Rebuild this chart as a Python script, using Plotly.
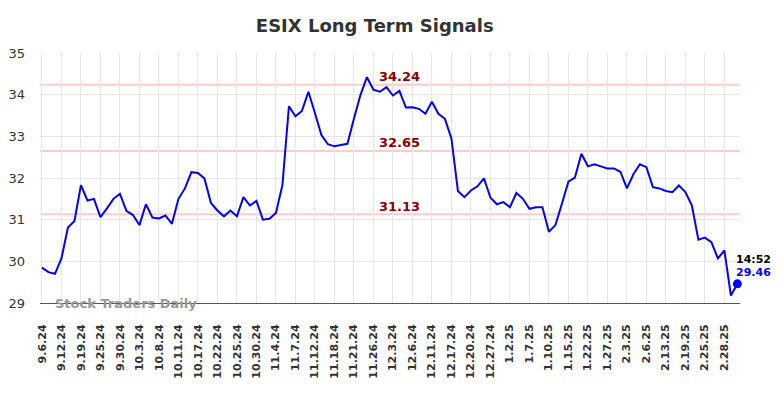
import plotly.graph_objects as go

tick_labels = ["9.6.24", "9.12.24", "9.19.24", "9.25.24", "9.30.24", "10.3.24", "10.8.24",
               "10.11.24", "10.17.24", "10.22.24", "10.25.24", "10.30.24", "11.4.24", "11.7.24",
               "11.12.24", "11.18.24", "11.21.24", "11.26.24", "12.3.24", "12.6.24", "12.11.24",
               "12.17.24", "12.20.24", "12.27.24", "1.2.25", "1.7.25", "1.10.25", "1.15.25",
               "1.22.25", "1.27.25", "2.3.25", "2.6.25", "2.13.25", "2.19.25", "2.25.25", "2.28.25"]

prices = [29.85, 29.74, 29.70, 30.07, 30.81, 30.97, 31.83, 31.46, 31.50, 31.06,
          31.27, 31.50, 31.62, 31.21, 31.11, 30.87, 31.37, 31.05, 31.03, 31.10,
          30.90, 31.50, 31.75, 32.14, 32.12, 31.99, 31.40, 31.22, 31.08, 31.22,
          31.08, 31.54, 31.34, 31.45, 31.00, 31.02, 31.16, 31.83, 33.72, 33.48,
          33.61, 34.07, 33.56, 33.03, 32.81, 32.76, 32.79, 32.82, 33.42, 33.99,
          34.42, 34.12, 34.07, 34.18, 33.98, 34.09, 33.69, 33.70, 33.66, 33.54,
          33.83, 33.54, 33.42, 32.95, 31.69, 31.54, 31.70, 31.80, 31.99, 31.53,
          31.37, 31.42, 31.30, 31.64, 31.50, 31.26, 31.30, 31.30, 30.71, 30.87,
          31.38, 31.91, 32.01, 32.58, 32.28, 32.33, 32.28, 32.23, 32.23, 32.15,
          31.75, 32.09, 32.33, 32.26, 31.78, 31.75, 31.69, 31.66, 31.82, 31.66,
          31.34, 30.52, 30.57, 30.46, 30.07, 30.26, 29.18, 29.46]

levels = [34.24, 32.65, 31.13]
last_time = "14:52"
last_price = 29.46

x = list(range(len(prices)))
tick_vals = list(range(0, len(tick_labels) * 3, 3))

fig = go.Figure()
fig.add_trace(go.Scatter(x=x, y=prices, mode="lines",
                         line=dict(color="#0000ff", width=2), hoverinfo="skip"))
fig.add_trace(go.Scatter(x=[x[-1]], y=[last_price], mode="markers", cliponaxis=False,
                         marker=dict(color="#0000ff", size=9), hoverinfo="skip"))

for lv in levels:
    fig.add_shape(type="line", xref="paper", x0=0, x1=1, y0=lv, y1=lv,
                  line=dict(color="#ffcccc", width=2), layer="below")
    fig.add_annotation(x=55, y=lv, text=f"<b>{lv:.2f}</b>", showarrow=False,
                       yshift=8, font=dict(family="DejaVu Sans", size=13, color="#8b0000"))

fig.add_annotation(x=x[-1], y=last_price, text=f"<b>{last_time}</b>", showarrow=False,
                   xanchor="center", yshift=24, xshift=16,
                   font=dict(family="DejaVu Sans", size=11, color="#000000"))
fig.add_annotation(x=x[-1], y=last_price, text=f"<b>{last_price:.2f}</b>", showarrow=False,
                   xanchor="center", yshift=11, xshift=16,
                   font=dict(family="DejaVu Sans", size=11, color="#0000ff"))

fig.add_annotation(xref="paper", yref="paper", x=0.018, y=0.0, xanchor="left", yanchor="middle",
                   text="<b>Stock Traders Daily</b>", showarrow=False,
                   font=dict(family="DejaVu Sans", size=13, color="#999999"))

fig.update_layout(
    width=784, height=398,
    margin=dict(l=40, r=44, t=53, b=95, autoexpand=False),
    paper_bgcolor="white", plot_bgcolor="white",
    showlegend=False,
    title=dict(text="<b>ESIX Long Term Signals</b>", x=0.478, xanchor="center",
               y=0.935, yanchor="middle",
               font=dict(family="DejaVu Sans", size=18, color="#333333")),
    xaxis=dict(range=[-0.3, 107.4], tickmode="array", tickvals=tick_vals,
               ticktext=[f"<b>{t}</b>" for t in tick_labels],
               tickangle=-90, showgrid=True, gridcolor="#e6e6e6", gridwidth=1,
               showline=True, linecolor="#555555", linewidth=1, zeroline=False,
               ticklabelstandoff=16, automargin=False,
               tickfont=dict(family="DejaVu Sans", size=11, color="#333333"), ticks=""),
    yaxis=dict(range=[29, 35], dtick=1, showgrid=True, gridcolor="#e6e6e6", gridwidth=1,
               zeroline=False, showline=False, ticks="", ticklabelstandoff=14, automargin=False,
               tickfont=dict(family="DejaVu Sans", size=13, color="#333333")),
)

fig.write_html("out.html")
